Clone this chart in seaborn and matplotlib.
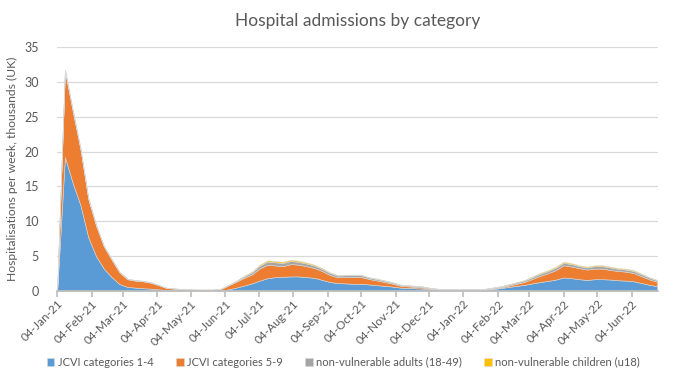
import pandas as pd
import seaborn as sns
import matplotlib.pyplot as plt
import matplotlib.dates as mdates

# weekly values, thousands
weeks = pd.date_range('2021-01-04', periods=78, freq='7D')

jcvi_1_4 = [0, 19.2, 15.5, 12.3, 7.7, 5.0, 3.2, 2.0, 1.0, 0.6,
            0.5, 0.4, 0.35, 0.25, 0.15, 0.1, 0.08, 0.08, 0.08, 0.08,
            0.08, 0.08, 0.25, 0.5, 0.8, 1.1, 1.5, 1.85, 2.0, 2.05,
            2.1, 2.1, 2.0, 1.9, 1.6, 1.3, 1.15, 1.1, 1.05, 1.05,
            0.95, 0.85, 0.75, 0.65, 0.5, 0.45, 0.4, 0.35, 0.25, 0.2,
            0.15, 0.15, 0.15, 0.15, 0.15, 0.2, 0.3, 0.45, 0.6, 0.75,
            0.9, 1.1, 1.3, 1.45, 1.65, 1.95, 1.85, 1.7, 1.6, 1.7,
            1.7, 1.65, 1.55, 1.5, 1.4, 1.15, 0.9, 0.7]
jcvi_5_9 = [0, 12.35, 10.3, 8.0, 5.5, 4.4, 3.2, 2.5, 1.7, 1.1,
            1.0, 1.0, 0.85, 0.6, 0.3, 0.25, 0.17, 0.12, 0.1, 0.1,
            0.1, 0.22, 0.57, 0.84, 1.1, 1.28, 1.75, 1.92, 1.67, 1.52,
            1.77, 1.68, 1.57, 1.41, 1.28, 1.0, 0.82, 0.92, 0.97, 0.97,
            0.78, 0.68, 0.55, 0.43, 0.28, 0.23, 0.2, 0.15, 0.1, 0.05,
            0.05, 0.05, 0.05, 0.05, 0.05, 0.05, 0.1, 0.1, 0.19, 0.3,
            0.42, 0.65, 0.88, 1.12, 1.35, 1.75, 1.66, 1.58, 1.48, 1.52,
            1.52, 1.37, 1.33, 1.28, 1.18, 0.97, 0.77, 0.63]
adults_18_49 = [0, 0.15, 0.12, 0.1, 0.08, 0.05, 0.05, 0.05, 0.05, 0.05,
                0.05, 0.05, 0.05, 0.03, 0.03, 0.03, 0.03, 0.03, 0.03, 0.03,
                0.03, 0.03, 0.05, 0.1, 0.2, 0.3, 0.4, 0.45, 0.45, 0.45,
                0.45, 0.4, 0.38, 0.35, 0.3, 0.3, 0.25, 0.25, 0.25, 0.25,
                0.2, 0.2, 0.18, 0.15, 0.12, 0.12, 0.12, 0.12, 0.06, 0.06,
                0.06, 0.06, 0.06, 0.06, 0.06, 0.08, 0.1, 0.12, 0.15, 0.18,
                0.2, 0.25, 0.3, 0.3, 0.35, 0.35, 0.35, 0.3, 0.3, 0.35,
                0.35, 0.35, 0.3, 0.3, 0.3, 0.28, 0.25, 0.2]
children_u18 = [0, 0.1, 0.08, 0.07, 0.06, 0.04, 0.04, 0.04, 0.04, 0.04,
                0.04, 0.04, 0.04, 0.02, 0.02, 0.02, 0.02, 0.02, 0.02, 0.02,
                0.02, 0.02, 0.03, 0.06, 0.1, 0.12, 0.15, 0.18, 0.18, 0.18,
                0.18, 0.17, 0.15, 0.14, 0.12, 0.1, 0.08, 0.08, 0.08, 0.08,
                0.07, 0.07, 0.07, 0.07, 0.05, 0.05, 0.05, 0.05, 0.03, 0.03,
                0.03, 0.03, 0.03, 0.03, 0.03, 0.03, 0.04, 0.05, 0.06, 0.07,
                0.08, 0.1, 0.12, 0.13, 0.15, 0.15, 0.14, 0.12, 0.12, 0.13,
                0.13, 0.13, 0.12, 0.12, 0.12, 0.1, 0.08, 0.07]

labels = ['JCVI categories 1-4', 'JCVI categories 5-9',
          'non-vulnerable adults (18-49)', 'non-vulnerable children (u18)']
colors = ['#5B9BD5', '#ED7D31', '#A5A5A5', '#FFC000']

sns.set_theme(style='white')
plt.rcParams['font.family'] = ['Lato', 'DejaVu Sans']
txt = '#595959'

fig = plt.figure(figsize=(6.8, 3.84), dpi=100)
ax = fig.add_axes([0.084, 0.242, 0.884, 0.636])

ax.stackplot(weeks, jcvi_1_4, jcvi_5_9, adults_18_49, children_u18,
             labels=labels, colors=colors, linewidth=0.4,
             edgecolor='#d8d8d8')

ax.set_ylim(0, 35)
ax.set_yticks(range(0, 36, 5))
ax.set_xlim(weeks[0], weeks[-1] + pd.Timedelta(days=1))
ax.grid(axis='y', color='#D9D9D9', linewidth=0.9)
ax.set_axisbelow(True)

# monthly ticks on the 4th
ticks = pd.date_range('2021-01-01', '2022-06-04', freq='MS') + pd.Timedelta(days=3)
ax.set_xticks(ticks)
ax.xaxis.set_major_formatter(mdates.DateFormatter('%d-%b-%y'))
ax.tick_params(axis='x', direction='out', length=4, color='#BFBFBF',
               labelsize=8.5, labelcolor=txt, pad=1, bottom=True)
ax.tick_params(axis='y', labelsize=9, labelcolor=txt, left=False, pad=7)
plt.setp(ax.get_xticklabels(), rotation=45, ha='right', rotation_mode='anchor')

for s in ['top', 'right', 'left']:
    ax.spines[s].set_visible(False)
ax.spines['bottom'].set_color('#BFBFBF')

ax.set_ylabel('Hospitalisations per week, thousands (UK)', fontsize=8.7,
              color=txt, labelpad=5)
ax.set_title('Hospital admissions by category', fontsize=12.5, color=txt, pad=15)

fig.legend(loc='center', bbox_to_anchor=(0.505, 0.057), ncol=4, frameon=False,
           fontsize=8, labelcolor=txt, handlelength=0.7, handleheight=0.7,
           handletextpad=0.3, columnspacing=2.0)

fig.savefig('out.png', dpi=100)
